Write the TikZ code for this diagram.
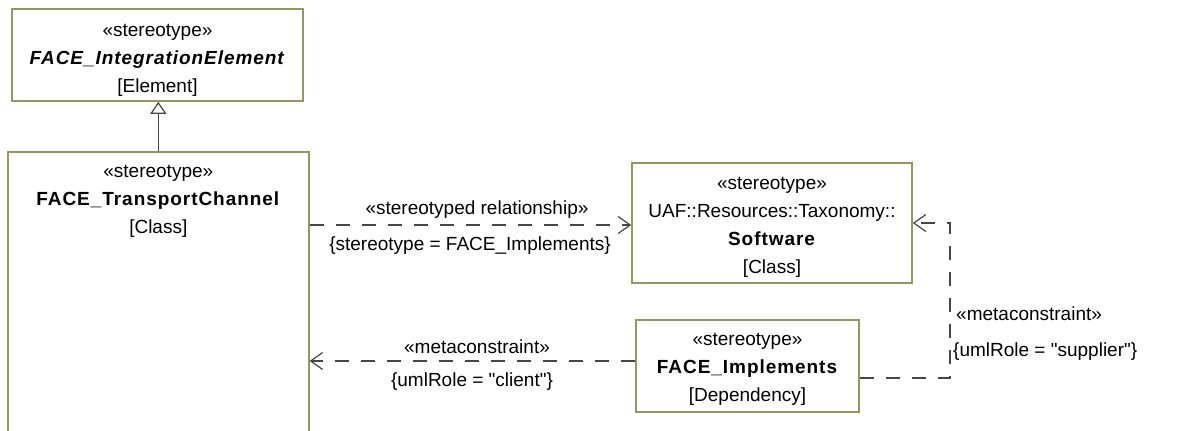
\documentclass[tikz,border=0pt]{standalone}
\usepackage{fontspec}
\setmainfont{Liberation Sans}[BoldFeatures={LetterSpace=5},BoldItalicFeatures={LetterSpace=5}]
\usetikzlibrary{arrows.meta}
\definecolor{boxline}{RGB}{150,150,95}
\definecolor{conn}{RGB}{70,70,70}
\begin{document}
\begin{tikzpicture}[x=1pt,y=-1pt,
  every node/.style={font=\fontsize{19}{28}\selectfont, text=black},
  umlbox/.style={draw=boxline, line width=1.6pt, fill=white, inner sep=0pt, align=center},
  dep/.style={draw=conn, line width=1.2pt, dash pattern=on 14pt off 12pt, -{Straight Barb[length=12pt,width=17pt,line width=1.2pt]}},
  gen/.style={draw=conn, line width=1.5pt, -{Triangle[open,length=12pt,width=16pt,fill=white,line width=1.2pt]}},
  lbl/.style={inner sep=1pt}
]
\useasboundingbox (0,0) rectangle (1202,431);
\clip (0,0) rectangle (1202,431);
\fill[white] (0,0) rectangle (1202,431);

\node[umlbox, minimum width=291pt, minimum height=92pt] (ie) at (157.5,55) {};
\node[align=center, inner sep=0pt] (iet) at (157.5,60)
  {«stereotype»\\ \textbf{\textit{FACE\_IntegrationElement}}\\ {[Element]}};

\node[umlbox, minimum width=301pt, minimum height=300pt, anchor=north west] (tc) at (7,151) {};
\node[anchor=north, align=center, inner sep=0pt] (tct) at ([yshift=-14pt]tc.north)
  {\fontsize{19}{28.5}\selectfont «stereotype»\\ \textbf{FACE\_TransportChannel}\\ {[Class]}};

\node[umlbox, minimum width=280pt, minimum height=120pt] (sw) at (772,223) {};
\node[align=center, inner sep=0pt] (swt) at (772,227)
  {«stereotype»\\ UAF::Resources::Taxonomy::\\ \textbf{Software}\\ {[Class]}};

\node[umlbox, minimum width=223pt, minimum height=92pt] (im) at (747.5,366) {};
\node[align=center, inner sep=0pt] (imt) at (747.5,369)
  {«stereotype»\\ \textbf{FACE\_Implements}\\ {[Dependency]}};

\draw[gen] (tc.north) -- (tc.north |- ie.south);

% stereotyped relationship
\coordinate (a1s) at (tc.east |- 0,225);
\coordinate (a1e) at (sw.west |- 0,225);
\draw[dep] (a1s) -- (a1e);
\node[lbl] (l1a) at (477,210) {«stereotyped relationship»};
\node[lbl] (l1b) at (470,246) {\{stereotype = FACE\_Implements\}};

% client
\coordinate (a2s) at (im.west |- 0,361);
\coordinate (a2e) at (tc.east |- 0,361);
\draw[dep] (a2s) -- (a2e);
\node[lbl] (l2a) at (477,347) {«metaconstraint»};
\node[lbl] (l2b) at (472,382) {\{umlRole = \textquotedbl client\textquotedbl\}};

% supplier
\coordinate (a3s) at (im.east |- 0,378);
\coordinate (b1) at (950,378);
\coordinate (b2) at (950,223);
\coordinate (a3e) at (sw.east |- 0,223);
\draw[dep] (a3s) -- (b1) -- (b2) -- (a3e);
\node[lbl, anchor=west] (l3a) at (955,314) {«metaconstraint»};
\node[lbl, anchor=west] (l3b) at (952,352) {\{umlRole = \textquotedbl supplier\textquotedbl\}};
\end{tikzpicture}
\end{document}
